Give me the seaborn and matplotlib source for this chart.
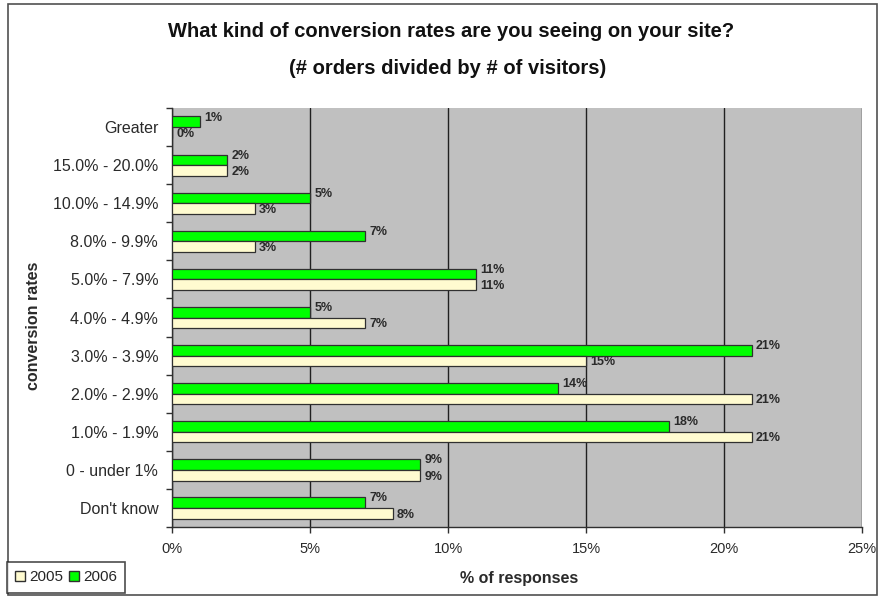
import matplotlib
matplotlib.use("Agg")
import matplotlib.pyplot as plt
from matplotlib.patches import Patch, Rectangle
import seaborn as sns
import pandas as pd

# datos (de arriba hacia abajo)
categories = ["Greater", "15.0% - 20.0%", "10.0% - 14.9%", "8.0% - 9.9%", "5.0% - 7.9%",
              "4.0% - 4.9%", "3.0% - 3.9%", "2.0% - 2.9%", "1.0% - 1.9%", "0 - under 1%",
              "Don't know"]
vals_2006 = [1, 2, 5, 7, 11, 5, 21, 14, 18, 9, 7]
vals_2005 = [0, 2, 3, 3, 11, 7, 15, 21, 21, 9, 8]
years = ["2006", "2005"]
x_ticks = [0, 5, 10, 15, 20, 25]

df = pd.DataFrame({
    "cat": categories * 2,
    "year": ["2006"] * len(categories) + ["2005"] * len(categories),
    "pct": vals_2006 + vals_2005,
})

sns.set_style("white")
plt.rcParams["font.family"] = ["Liberation Sans", "DejaVu Sans"]

colors = {"2006": "#00FF00", "2005": "#FFFBD0"}
txt = "#2a2a2a"

fig = plt.figure(figsize=(8.79, 5.97), dpi=100)
ax = fig.add_axes([0.1957, 0.1173, 0.785, 0.7017])
ax.set_facecolor("#C0C0C0")

sns.barplot(data=df, y="cat", x="pct", hue="year", hue_order=years, order=categories,
            palette=colors, saturation=1, orient="h", width=0.56, edgecolor="#303030",
            linewidth=0.9, legend=False, ax=ax, zorder=3)

# etiquetas de valor (las verdes un poco mas arriba, como en Excel)
offsets = {0: 3, 1: -1}
for i, cont in enumerate(ax.containers):
    for bar in cont:
        w = bar.get_width()
        yc = bar.get_y() + bar.get_height() / 2
        ax.annotate(f"{w:.0f}%", (w, yc), xytext=(3, offsets[i]), textcoords="offset points",
                    ha="left", va="center", fontsize=9, fontweight="bold", color=txt,
                    zorder=4)

ax.set_xlim(0, 25)
ax.set_ylim(10.5, -0.5)
ax.set_xticks(x_ticks)
ax.set_xticklabels([f"{t}%" for t in x_ticks], fontsize=10.5, color=txt)
ax.tick_params(axis="x", length=4, width=1, color="#303030", pad=7, direction="out", bottom=True)
ax.tick_params(axis="y", which="major", length=0, labelsize=11.5, labelcolor=txt, pad=10)
ax.set_yticks([i - 0.5 for i in range(len(categories) + 1)], minor=True)
ax.tick_params(axis="y", which="minor", length=4, width=1, color="#303030", left=True)
ax.xaxis.grid(True, color="#202020", linewidth=1, zorder=1)
ax.yaxis.grid(False)
ax.set_axisbelow(True)
for s in ["top", "right"]:
    ax.spines[s].set_visible(False)
for s in ["left", "bottom"]:
    ax.spines[s].set_color("#303030")
    ax.spines[s].set_linewidth(1)

ax.set_xlabel("% of responses", fontsize=11.5, fontweight="bold", color=txt)
ax.xaxis.set_label_coords(0.503, -0.105)
ax.set_ylabel("conversion rates", fontsize=11.5, fontweight="bold", color=txt)
ax.yaxis.set_label_coords(-0.19, 0.48)

fig.text(0.513, 0.948, "What kind of conversion rates are you seeing on your site?",
         ha="center", va="center", fontsize=14.5, fontweight="bold", color="#111111")
fig.text(0.509, 0.886, "(# orders divided by # of visitors)",
         ha="center", va="center", fontsize=14.5, fontweight="bold", color="#111111")

# leyenda abajo a la izquierda
handles = [Patch(facecolor=colors["2005"], edgecolor="#303030", label="2005"),
           Patch(facecolor=colors["2006"], edgecolor="#303030", label="2006")]
leg = fig.legend(handles=handles, loc="lower left", bbox_to_anchor=(0.008, 0.007), ncol=2,
                 fontsize=11, frameon=True, fancybox=False, handlelength=0.65,
                 handleheight=0.65, handletextpad=0.25, columnspacing=0.4, borderpad=0.55,
                 borderaxespad=0)
leg.get_frame().set_edgecolor("#202020")
leg.get_frame().set_linewidth(1.2)

# marco exterior
fig.patches.append(Rectangle((0.009, 0.004), 0.989, 0.99, transform=fig.transFigure,
                             fill=False, edgecolor="#505050", linewidth=1.2))

fig.savefig("out.png", dpi=100)
